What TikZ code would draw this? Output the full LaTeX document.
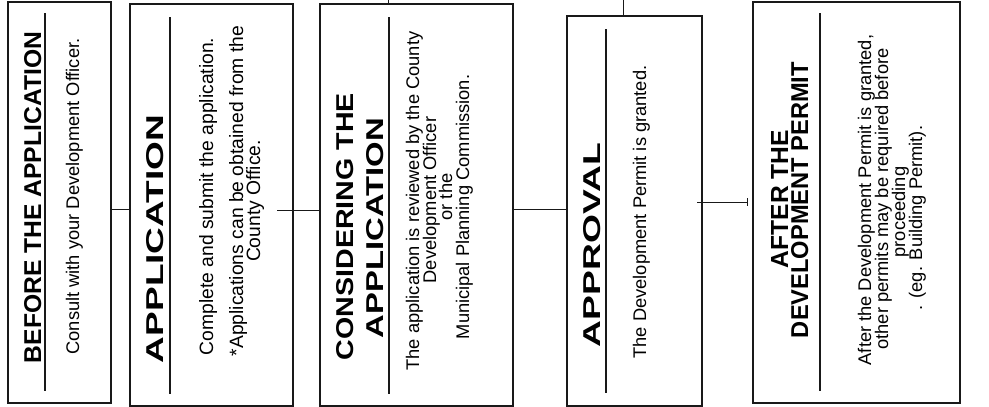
\documentclass[tikz,border=0pt]{standalone}
\usepackage{fontspec}
\setmainfont{Liberation Sans}
\usepackage{graphicx}
\newcommand{\ttlbox}[2]{\resizebox{#1pt}{17pt}{\bfseries #2}}
\tikzset{
  stagebox/.style={draw=black!90, line width=1.5pt, rectangle, inner sep=0pt},
  divider/.style={draw=black!90, line width=1.3pt},
  link/.style={draw=black!90, line width=1pt},
  ttl/.style={rotate=90, anchor=base, inner sep=0pt},
  bodytxt/.style={rotate=90, anchor=base, inner sep=0pt, font=\fontsize{18.3}{20}\selectfont},
  bodybig/.style={bodytxt, font=\fontsize{19.3}{21}\selectfont},
}
\begin{document}
\begin{tikzpicture}[x=1pt, y=-1pt]
\useasboundingbox (0,0) rectangle (989,407);
% boxes
\node[stagebox, minimum width=103pt, minimum height=401pt] (b1) at (59.5,202.5) {};
\node[stagebox, minimum width=163pt, minimum height=402pt] (b2) at (211.5,205) {};
\node[stagebox, minimum width=193pt, minimum height=402pt] (b3) at (416.5,205) {};
\node[stagebox, minimum width=135pt, minimum height=390pt] (b4) at (634.5,211) {};
\node[stagebox, minimum width=207pt, minimum height=401pt] (b5) at (856.5,202.5) {};
% dividers
\draw[divider] (45,13) -- (45,391);
\draw[divider] (170,17) -- (170,394);
\draw[divider] (389,17) -- (389,394);
\draw[divider] (606,29) -- (606,393);
\draw[divider] (820,13) -- (820,391);
% titles
\node[ttl] (t1) at (41,197.5) {\ttlbox{331}{BEFORE THE APPLICATION}};
\node[ttl] (t2) at (163,239) {\ttlbox{248}{APPLICATION}};
\node[ttl] (t3a) at (353,226.5) {\ttlbox{267}{CONSIDERING THE}};
\node[ttl] (t3b) at (383,228) {\ttlbox{220}{APPLICATION}};
\node[ttl] (t4) at (600,245) {\ttlbox{204}{APPROVAL}};
\node[ttl] (t5a) at (788,199) {\ttlbox{138}{AFTER THE}};
\node[ttl] (t5b) at (808,200) {\ttlbox{276}{DEVELOPMENT PERMIT}};
% body texts
\node[bodytxt] (x1) at (79,196.5) {Consult with your Development Officer.};
\node[bodybig] (x2a) at (213,196.5) {Complete and submit the application.};
\node[bodybig] (x2b) at (243,191) {*Applications can be obtained from the};
\node[bodybig] (x2c) at (260,201) {County Office.};
\node[bodytxt] (x3a) at (419,201) {The application is reviewed by the County};
\node[bodytxt] (x3b) at (436,200) {Development Officer};
\node[bodytxt] (x3c) at (452,197) {or the};
\node[bodytxt] (x3d) at (469,207) {Municipal Planning Commission.};
\node[bodytxt] (x4) at (646,212) {The Development Permit is granted.};
\node[bodytxt] (x5a) at (871,200) {After the Development Permit is granted,};
\node[bodytxt] (x5b) at (888,199) {other permits may be required before};
\node[bodytxt] (x5c) at (905,212) {proceeding};
\node[bodytxt] (x5d) at (922,218) {. (eg. Building Permit).};
% connectors
\coordinate (y12) at (0,209);
\draw[link] (b1.east |- y12) -- (b2.west |- y12);
\coordinate (s23) at (277,210);
\draw[link] (s23) -- (b3.west |- s23);
\coordinate (y34) at (0,209);
\draw[link] (b3.east |- y34) -- (b4.west |- y34);
\coordinate (s45) at (697,202);
\coordinate (e45) at (747,202);
\draw[link] (s45) -- (e45);
\draw[link] ([yshift=4pt]e45) -- ([yshift=-4pt]e45);
\coordinate (t3) at (388,0);
\draw[link] (t3) -- (t3 |- b3.north);
\coordinate (t4) at (623,0);
\draw[link] (t4) -- (t4 |- b4.north);
\end{tikzpicture}
\end{document}
